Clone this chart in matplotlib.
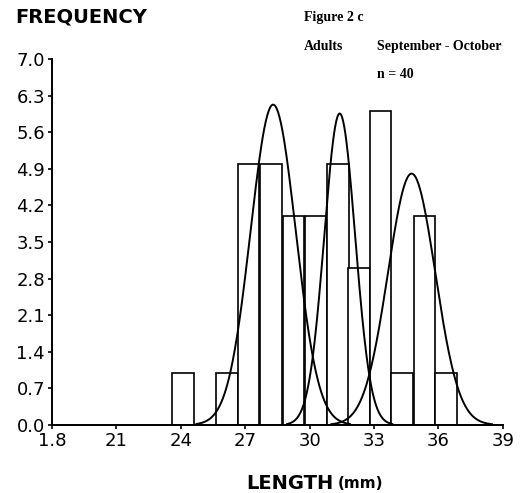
import numpy as np
import matplotlib.pyplot as plt

# length classes (mm) and counts, n = 40
bin_left = [23.6, 25.65, 26.65, 27.7, 28.75, 29.8, 30.8, 31.8, 32.8, 33.8, 34.85, 35.85]
counts = [1, 1, 5, 5, 4, 4, 5, 3, 6, 1, 4, 1]
bin_width = 1.01

# fitted normal components: mean, sd, peak height
comp_mean = [28.3, 31.4, 34.75]
comp_sd = [1.05, 0.72, 1.1]
comp_peak = [6.13, 5.96, 4.81]

x_ticks = [18, 21, 24, 27, 30, 33, 36, 39]
x_labels = ['1.8', '21', '24', '27', '30', '33', '36', '39']
y_ticks = [0.0, 0.7, 1.4, 2.1, 2.8, 3.5, 4.2, 4.9, 5.6, 6.3, 7.0]

fig = plt.figure(figsize=(5.31, 4.93), dpi=100)
ax = fig.add_axes([0.098, 0.138, 0.849, 0.742])

ax.bar(bin_left, counts, width=bin_width, align='edge',
       facecolor='white', edgecolor='black', linewidth=1.2, zorder=2)

# normal curves
for m, s, p in zip(comp_mean, comp_sd, comp_peak):
    xs = np.linspace(m - 3.4 * s, m + 3.4 * s, 200)
    ax.plot(xs, p * np.exp(-0.5 * ((xs - m) / s) ** 2), color='black', linewidth=1.4, zorder=3)

ax.set_xlim(18, 39)
ax.set_ylim(0, 7)
ax.spines['top'].set_visible(False)
ax.spines['right'].set_visible(False)
ax.spines['left'].set_linewidth(1.4)
ax.spines['bottom'].set_linewidth(1.4)

ax.set_xticks(x_ticks)
ax.set_xticklabels(x_labels)
ax.set_yticks(y_ticks)
ax.set_yticklabels([f'{v:.1f}' for v in y_ticks])
ax.tick_params(direction='out', length=3, width=1.2, pad=2)
for lab in ax.get_xticklabels() + ax.get_yticklabels():
    lab.set_family('DejaVu Sans')
    lab.set_fontsize(13)

# axis titles
fig.text(0.028, 0.965, 'FREQUENCY', fontsize=14, fontweight='heavy',
         family='DejaVu Sans', ha='left', va='center')
fig.text(0.628, 0.02, 'LENGTH', fontsize=14, fontweight='heavy',
         family='DejaVu Sans', ha='right', va='center')
fig.text(0.636, 0.02, '(mm)', fontsize=11, fontweight='bold',
         family='DejaVu Sans', ha='left', va='center')

# figure notes
fig.text(0.572, 0.965, 'Figure 2 c', fontsize=10, fontweight='bold',
         family='Liberation Serif', ha='left', va='center')
fig.text(0.572, 0.905, 'Adults', fontsize=10, fontweight='bold',
         family='Liberation Serif', ha='left', va='center')
fig.text(0.71, 0.905, 'September - October', fontsize=10, fontweight='bold',
         family='Liberation Serif', ha='left', va='center')
fig.text(0.71, 0.848, 'n = 40', fontsize=10, fontweight='bold',
         family='Liberation Serif', ha='left', va='center')

plt.savefig('out.png', dpi=100)
